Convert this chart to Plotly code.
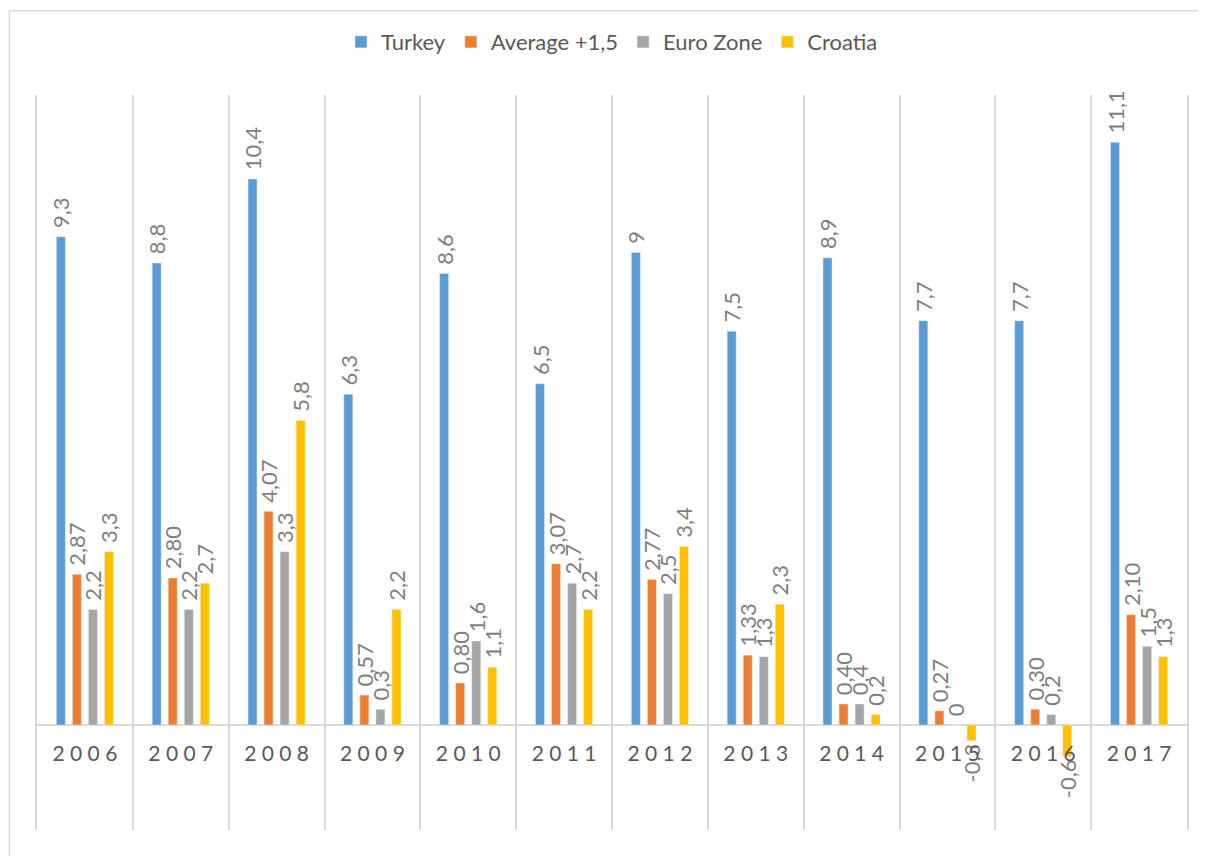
import plotly.graph_objects as go

years = ["2006", "2007", "2008", "2009", "2010", "2011",
         "2012", "2013", "2014", "2015", "2016", "2017"]

turkey = [9.3, 8.8, 10.4, 6.3, 8.6, 6.5, 9, 7.5, 8.9, 7.7, 7.7, 11.1]
average = [2.87, 2.80, 4.07, 0.57, 0.80, 3.07, 2.77, 1.33, 0.40, 0.27, 0.30, 2.10]
euro_zone = [2.2, 2.2, 3.3, 0.3, 1.6, 2.7, 2.5, 1.3, 0.4, 0, 0.2, 1.5]
croatia = [3.3, 2.7, 5.8, 2.2, 1.1, 2.2, 3.4, 2.3, 0.2, -0.3, -0.6, 1.3]

tick_labels = [" ".join(y) for y in years]


def comma(v, decimals=None):
    s = f"{v:.{decimals}f}" if decimals is not None else f"{v:g}"
    # leading nbsp keeps the label a little off the bar end, as in Excel
    return "\u00a0" + s.replace(".", ",")


series = [
    ("Turkey", turkey, "#5B9BD5", [comma(v) for v in turkey]),
    ("Average +1,5", average, "#ED7D31", [comma(v, 2) for v in average]),
    ("Euro Zone", euro_zone, "#A5A5A5", [comma(v) for v in euro_zone]),
    ("Croatia", croatia, "#FFC000", [comma(v) for v in croatia]),
]

fig = go.Figure()
for name, vals, color, labels in series:
    fig.add_trace(go.Bar(
        x=years,
        y=vals,
        name=name,
        marker_color=color,
        text=labels,
        textposition="outside",
        textangle=-90,
        textfont=dict(family="Lato, Open Sans, sans-serif", size=22, color="#7f7f7f"),
        constraintext="none",
        cliponaxis=False,
    ))

# page body adds 8px offset, so figure is 8px smaller and margins shifted
fig.update_layout(
    width=1198,
    height=848,
    margin=dict(l=29, r=19, t=87, b=26, autoexpand=False),
    paper_bgcolor="white",
    plot_bgcolor="white",
    barmode="group",
    bargap=0.33,
    bargroupgap=0.44,
    font=dict(family="Lato, Open Sans, sans-serif", color="#595959"),
    legend=dict(
        orientation="h",
        x=0.5, xanchor="center",
        y=1.072, yanchor="middle",
        font=dict(size=22, color="#595959"),
    ),
    showlegend=True,
)

fig.update_xaxes(
    type="category",
    tickmode="array",
    tickvals=years,
    ticktext=tick_labels,
    tickson="boundaries",
    showgrid=True,
    gridcolor="#d9d9d9",
    gridwidth=2,
    ticks="",
    anchor="free",
    position=2 / 14,
    ticklabelstandoff=14,
    tickfont=dict(size=21, color="#595959"),
    showline=False,
)

fig.update_yaxes(
    range=[-2, 12],
    showgrid=False,
    showticklabels=False,
    zeroline=True,
    zerolinecolor="#d9d9d9",
    zerolinewidth=2,
    showline=True,
    mirror=True,
    linecolor="#d9d9d9",
    linewidth=2,
)

# outer chart border
fig.add_shape(type="rect", xref="paper", yref="paper",
              x0=-0.024, x1=1.03, y0=-0.05, y1=1.1145,
              line=dict(color="#d9d9d9", width=1.5), layer="below")

fig.write_html("out.html")
